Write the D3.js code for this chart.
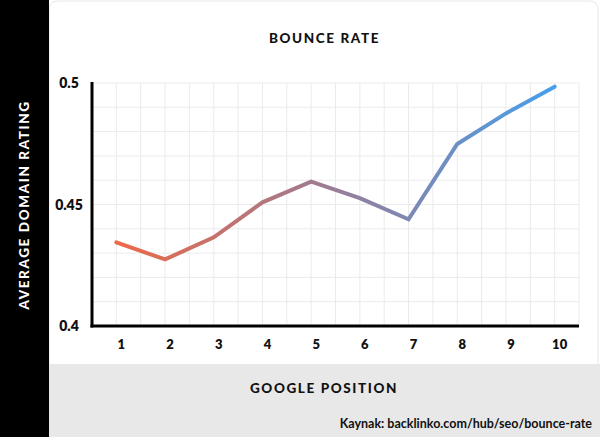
<!DOCTYPE html>
<html><head><meta charset="utf-8">
<script src="https://cdn.jsdelivr.net/npm/d3@7"></script>
<style>
html,body{margin:0;padding:0;background:#fff;}
svg{display:block;}
</style>
</head><body>
<svg id="chart" width="600" height="437"></svg>
<script>
const positions = [1,2,3,4,5,6,7,8,9,10];
const values = [0.4344,0.4274,0.4365,0.4509,0.4594,0.4526,0.4439,0.4749,0.4875,0.4985];
const yTicks = [0.4,0.45,0.5];
const title = "BOUNCE RATE";
const xTitle = "GOOGLE POSITION";
const yTitle = "AVERAGE DOMAIN RATING";
const source = "Kaynak: backlinko.com/hub/seo/bounce-rate";

const svg = d3.select("#chart");
const W = 600, H = 437;
const font = "Lato, 'Open Sans', sans-serif";

// backgrounds
svg.append("rect").attr("x",0).attr("y",0).attr("width",W).attr("height",H).attr("fill","#ffffff");
svg.append("rect").attr("x",49).attr("y",1).attr("width",549).attr("height",H+20).attr("rx",8)
  .attr("fill","#ffffff").attr("stroke","#e6e6e6").attr("stroke-width",1);
svg.append("rect").attr("x",49).attr("y",364).attr("width",W-49).attr("height",H-364).attr("fill","#e8e8e8");
svg.append("rect").attr("x",0).attr("y",0).attr("width",49).attr("height",H).attr("fill","#000");

const x = d3.scaleLinear().domain([0.5,10.5]).range([92,579]);
const y = d3.scaleLinear().domain([0.4,0.5]).range([326,83]);

// grid
const g = svg.append("g");
const vg = d3.range(1,21).map(i=>0.5+i*0.5);
g.selectAll(".vg").data(vg).enter().append("line")
  .attr("x1",d=>x(d)).attr("x2",d=>x(d)).attr("y1",y(0.5)).attr("y2",y(0.4))
  .attr("stroke","#ebebeb").attr("stroke-width",1);
const hg = d3.range(0,11).map(i=>0.4+i*0.01);
g.selectAll(".hg").data(hg).enter().append("line")
  .attr("x1",x(0.5)).attr("x2",x(10.5)).attr("y1",d=>y(d)).attr("y2",d=>y(d))
  .attr("stroke","#ebebeb").attr("stroke-width",1);

// axes lines
svg.append("line").attr("x1",x(0.5)).attr("x2",x(0.5)).attr("y1",y(0.5)-1).attr("y2",y(0.4)+1.5)
  .attr("stroke","#000").attr("stroke-width",3);
svg.append("line").attr("x1",x(0.5)-1.5).attr("x2",x(10.5)).attr("y1",y(0.4)).attr("y2",y(0.4))
  .attr("stroke","#000").attr("stroke-width",3);

// tick labels
svg.selectAll(".yt").data(yTicks).enter().append("text")
  .attr("x",69).attr("y",d=>y(d)+5).attr("text-anchor","middle")
  .attr("font-family",font).attr("font-weight",800).attr("font-size",14).attr("fill","#111")
  .text(d=>d3.format("")(d));
svg.selectAll(".xt").data(positions).enter().append("text")
  .attr("x",d=>x(d)+5).attr("y",349).attr("text-anchor","middle")
  .attr("font-family",font).attr("font-weight",800).attr("font-size",13).attr("fill","#111")
  .text(d=>d);

// gradient line
const defs = svg.append("defs");
const grad = defs.append("linearGradient").attr("id","lg").attr("gradientUnits","userSpaceOnUse")
  .attr("x1",x(1)).attr("x2",x(10)).attr("y1",0).attr("y2",0);
grad.append("stop").attr("offset","0%").attr("stop-color","#ec6a48");
grad.append("stop").attr("offset","45%").attr("stop-color","#a07a90");
grad.append("stop").attr("offset","100%").attr("stop-color","#479fec");

const line = d3.line().x((d,i)=>x(positions[i])).y(d=>y(d));
svg.append("path").datum(values).attr("d",line).attr("fill","none")
  .attr("stroke","url(#lg)").attr("stroke-width",4).attr("stroke-linejoin","miter").attr("stroke-linecap","round");

// titles
svg.append("text").attr("x",324.5).attr("y",43).attr("text-anchor","middle")
  .attr("font-family",font).attr("font-weight",900).attr("font-size",13.5).attr("letter-spacing",1.6)
  .attr("fill","#111").text(title);
svg.append("text").attr("x",324).attr("y",393).attr("text-anchor","middle")
  .attr("font-family",font).attr("font-weight",900).attr("font-size",13.5).attr("letter-spacing",1.6)
  .attr("fill","#111").text(xTitle);
svg.append("text").attr("transform","translate(29,205) rotate(-90)").attr("text-anchor","middle")
  .attr("font-family",font).attr("font-weight",900).attr("font-size",13.5).attr("letter-spacing",1.6)
  .attr("fill","#fff").text(yTitle);
svg.append("text").attr("x",592).attr("y",428).attr("text-anchor","end")
  .attr("font-family",font).attr("font-weight",700).attr("font-size",12.5)
  .attr("fill","#111").text(source);
</script>
</body></html>
